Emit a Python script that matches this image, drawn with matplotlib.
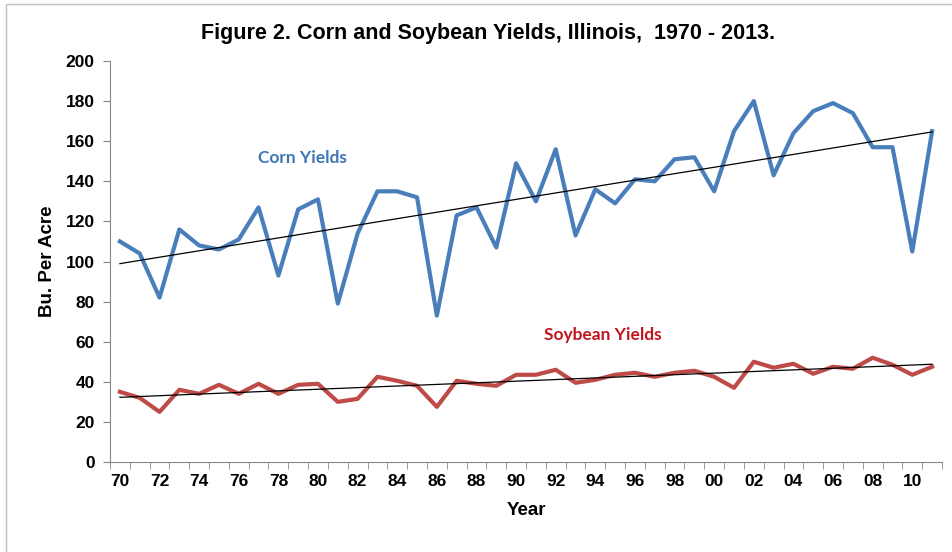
import numpy as np
import matplotlib
matplotlib.use("Agg")
import matplotlib.pyplot as plt
from matplotlib.patches import Rectangle

plt.rcParams["font.family"] = ["Liberation Sans", "DejaVu Sans"]
calib = ["Lato", "DejaVu Sans"]

year_labels = ["70", "71", "72", "73", "74", "75", "76", "77", "78", "79",
               "80", "81", "82", "83", "84", "85", "86", "87", "88", "89",
               "90", "91", "92", "93", "94", "95", "96", "97", "98", "99",
               "00", "01", "02", "03", "04", "05", "06", "07", "08", "09",
               "10", "11"]
corn = [110, 104, 82, 116, 108, 106, 111, 127, 93, 126,
        131, 79, 114, 135, 135, 132, 73, 123, 127, 107,
        149, 130, 156, 113, 136, 129, 141, 140, 151, 152,
        135, 165, 180, 143, 164, 175, 179, 174, 157, 157,
        105, 165]
soy = [35, 32, 25, 36, 34, 38.5, 34, 39, 34, 38.5,
       39, 30, 31.5, 42.5, 40.5, 38, 27.5, 40.5, 39, 38,
       43.5, 43.5, 46, 39.5, 41, 43.5, 44.5, 42.5, 44.5, 45.5,
       42.5, 37, 50, 47, 49, 44, 47.5, 46.5, 52, 48.5,
       43.5, 47.5]

x = np.arange(len(year_labels))
corn_fit = np.polyval(np.polyfit(x, corn, 1), x)
soy_fit = np.polyval(np.polyfit(x, soy, 1), x)

fig = plt.figure(figsize=(9.52, 5.52), dpi=100)
ax = fig.add_axes([110/952, 1-462/552, (942-110)/952, (462-61)/552])

ax.plot(x, corn, color="#4A7EBB", linewidth=3)
ax.plot(x, soy, color="#BE4B48", linewidth=3)
ax.plot(x, corn_fit, color="black", linewidth=0.9)
ax.plot(x, soy_fit, color="black", linewidth=0.9)

# series labels
ax.text(9.2, 151.5, "Corn Yields", color="#3E75B5", fontsize=12.5,
        fontweight="bold", ha="center", va="center", family=calib)
ax.text(24.4, 63.3, "Soybean Yields", color="#C0171F", fontsize=12.5,
        fontweight="bold", ha="center", va="center", family=calib)

ax.set_xlim(-0.5, len(x) - 0.5)
ax.set_ylim(0, 200)
ax.set_yticks(np.arange(0, 201, 20))
ax.set_xticks(np.arange(-0.5, len(x), 1.0), minor=True)
ax.set_xticks(x[::2])
ax.set_xticklabels(year_labels[::2])
ax.tick_params(axis="x", which="major", length=0, pad=9)
ax.tick_params(axis="x", which="minor", length=5, color="#868686", direction="out")
ax.tick_params(axis="y", length=5, color="#868686", direction="out", pad=6)
for lab in ax.get_xticklabels() + ax.get_yticklabels():
    lab.set_fontweight("bold")
    lab.set_fontsize(12.5)

for s in ["top", "right"]:
    ax.spines[s].set_visible(False)
for s in ["left", "bottom"]:
    ax.spines[s].set_color("#868686")

ax.set_xlabel("Year", fontsize=13.5, fontweight="bold", labelpad=9)
ax.set_ylabel("Bu. Per Acre", fontsize=13.5, fontweight="bold", labelpad=7)

fig.text(0.513, 1-33/552, "Figure 2. Corn and Soybean Yields, Illinois,  1970 - 2013.",
         fontsize=15.5, fontweight="bold", ha="center", va="center")

fig.patches.append(Rectangle((6/952, -0.1), 1.2, 1.1 - 4/552, transform=fig.transFigure,
                             fill=False, edgecolor="#BFBFBF", linewidth=1))

fig.savefig("out.png", dpi=100, facecolor="white")
